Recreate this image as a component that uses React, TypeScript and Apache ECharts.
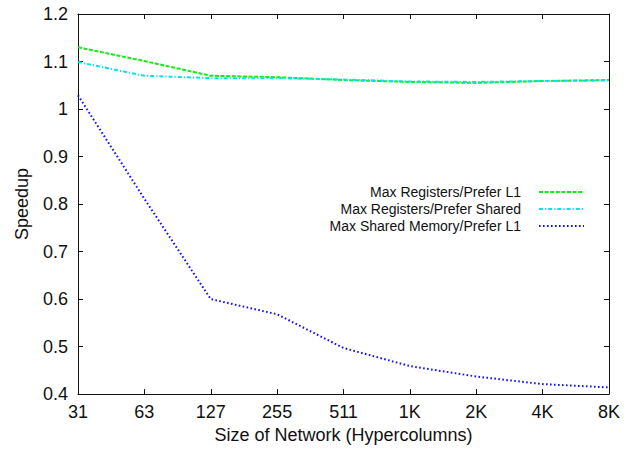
import React, { useEffect, useRef } from "react";
import * as echarts from "echarts";

const categories = ["31", "63", "127", "255", "511", "1K", "2K", "4K", "8K"];
const seriesNames = [
  "Max Registers/Prefer L1",
  "Max Registers/Prefer Shared",
  "Max Shared Memory/Prefer L1",
];
const regL1 = [1.130, 1.101, 1.070, 1.067, 1.061, 1.057, 1.055, 1.059, 1.061];
const regShared = [1.099, 1.070, 1.065, 1.065, 1.062, 1.058, 1.057, 1.059, 1.060];
const sharedL1 = [1.029, 0.811, 0.600, 0.568, 0.497, 0.459, 0.437, 0.421, 0.414];

const FONT = "Liberation Sans, Arial, Helvetica, sans-serif";

export default function App() {
  const ref = useRef<HTMLDivElement>(null);
  useEffect(() => {
    document.body.style.margin = "0";
    if (!ref.current) return;
    const chart = echarts.init(ref.current, undefined, { renderer: "svg" });
    const axisLine = { show: true, lineStyle: { color: "#111", width: 1 } };
    const legendBase = {
      orient: "horizontal",
      align: "right",
      right: 44,
      itemWidth: 45,
      itemHeight: 12,
      itemStyle: { color: "transparent", borderWidth: 0, opacity: 0 },
      textStyle: { fontFamily: FONT, fontSize: 14, color: "#111", padding: [0, 13, 0, 0] },
      selectedMode: false,
    };
    chart.setOption({
      animation: false,
      backgroundColor: "#fff",
      grid: { left: 78, right: 25, top: 14, bottom: 49, containLabel: false },
      legend: [
        { ...legendBase, data: [seriesNames[0]], top: 180 },
        { ...legendBase, data: [seriesNames[1]], top: 197 },
        { ...legendBase, data: [seriesNames[2]], top: 214 },
      ],
      xAxis: [
        {
          type: "category",
          data: categories,
          boundaryGap: false,
          axisLine,
          axisTick: { show: true, inside: true, length: 5, alignWithLabel: true, lineStyle: { color: "#111" } },
          axisLabel: { fontFamily: FONT, fontSize: 18, color: "#111", margin: 9 },
          splitLine: { show: false },
          name: "Size of Network (Hypercolumns)",
          nameLocation: "middle",
          nameGap: 26,
          nameTextStyle: { fontFamily: FONT, fontSize: 18, color: "#111" },
        },
        {
          type: "category",
          data: categories,
          boundaryGap: false,
          position: "top",
          axisLine,
          axisTick: { show: true, inside: true, length: 5, lineStyle: { color: "#111" } },
          axisLabel: { show: false },
          splitLine: { show: false },
        },
      ],
      yAxis: [
        {
          type: "value",
          min: 0.4,
          max: 1.2,
          interval: 0.1,
          axisLine,
          axisTick: { show: true, inside: true, length: 5, lineStyle: { color: "#111" } },
          axisLabel: { fontFamily: FONT, fontSize: 18, color: "#111", margin: 10 },
          splitLine: { show: false },
          name: "Speedup",
          nameLocation: "middle",
          nameGap: 47,
          nameTextStyle: { fontFamily: FONT, fontSize: 18, color: "#111" },
        },
        {
          type: "value",
          min: 0.4,
          max: 1.2,
          interval: 0.1,
          position: "right",
          axisLine,
          axisTick: { show: true, inside: true, length: 5, lineStyle: { color: "#111" } },
          axisLabel: { show: false },
          splitLine: { show: false },
        },
      ],
      series: [
        {
          name: seriesNames[0],
          type: "line",
          data: regL1,
          showSymbol: false,
          symbol: "none",
          color: "#11ee11",
          lineStyle: { color: "#11ee11", width: 2, type: [4, 1.6] },
        },
        {
          name: seriesNames[1],
          type: "line",
          data: regShared,
          showSymbol: false,
          symbol: "none",
          color: "#00e5ee",
          lineStyle: { color: "#00e5ee", width: 2, type: [4, 2, 1.2, 2] },
        },
        {
          name: seriesNames[2],
          type: "line",
          data: sharedL1,
          showSymbol: false,
          symbol: "none",
          color: "#1010ff",
          lineStyle: { color: "#1010ff", width: 2, type: [1.6, 2.4] },
        },
      ],
    });
    return () => chart.dispose();
  }, []);
  return <div ref={ref} style={{ width: 634, height: 449 }} />;
}
